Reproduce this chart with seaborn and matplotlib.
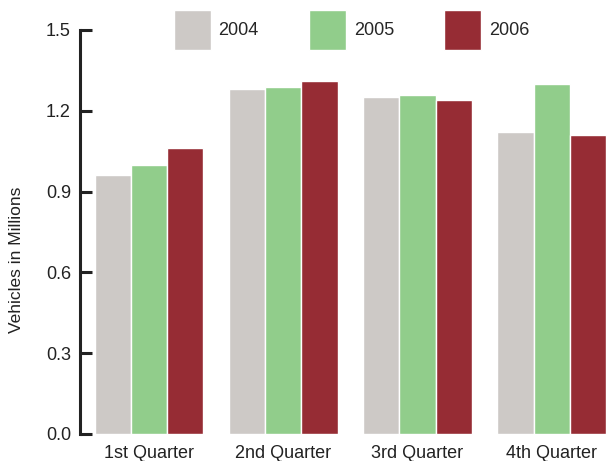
import matplotlib
matplotlib.use("Agg")
import matplotlib.pyplot as plt
import seaborn as sns
import pandas as pd

# data
quarters = ["1st Quarter", "2nd Quarter", "3rd Quarter", "4th Quarter"]
years = ["2004", "2005", "2006"]
sales_2004 = [0.96, 1.28, 1.25, 1.12]
sales_2005 = [1.00, 1.29, 1.26, 1.30]
sales_2006 = [1.06, 1.31, 1.24, 1.11]
colors = ["#cdc9c6", "#91cd8b", "#962c34"]

df = pd.DataFrame({
    "quarter": quarters * 3,
    "year": [y for y in years for _ in quarters],
    "value": sales_2004 + sales_2005 + sales_2006,
})

sns.set_style("white")
plt.rcParams["font.family"] = ["Liberation Sans", "DejaVu Sans"]

fig = plt.figure(figsize=(6.08, 4.61), dpi=100)
ax = fig.add_axes([0.1316, 0.0586, 0.8684, 0.8764])
sns.barplot(data=df, x="quarter", y="value", hue="year", palette=colors,
            saturation=1, width=0.81, edgecolor="white", linewidth=1, ax=ax)

ax.set_ylim(0, 1.5)
ax.set_xlim(-0.515, 3.42)
ax.set_yticks([0.0, 0.3, 0.6, 0.9, 1.2, 1.5])
ax.set_yticklabels(["0.0", "0.3", "0.6", "0.9", "1.2", "1.5"])
ax.tick_params(axis="y", left=True, direction="in", length=8.6, width=2.2,
               labelsize=13, color="#222222", labelcolor="#222222", pad=6.5)
ax.tick_params(axis="x", bottom=False, length=0, labelsize=13,
               labelcolor="#222222", pad=8)
ax.set_xlabel("")
ax.set_ylabel("Vehicles in Millions", fontsize=12.5, color="#222222")
ax.yaxis.set_label_coords(-0.107, 0.43)

for side in ["top", "right", "bottom"]:
    ax.spines[side].set_visible(False)
ax.spines["left"].set_linewidth(2.2)
ax.spines["left"].set_color("#222222")

ax.legend(title=None, ncol=3, frameon=False, fontsize=13,
          loc="center", bbox_to_anchor=(0.514, 1.0),
          handlelength=2.05, handleheight=3.0, handletextpad=0.44,
          columnspacing=2.77)

plt.savefig("out.png", dpi=100)
